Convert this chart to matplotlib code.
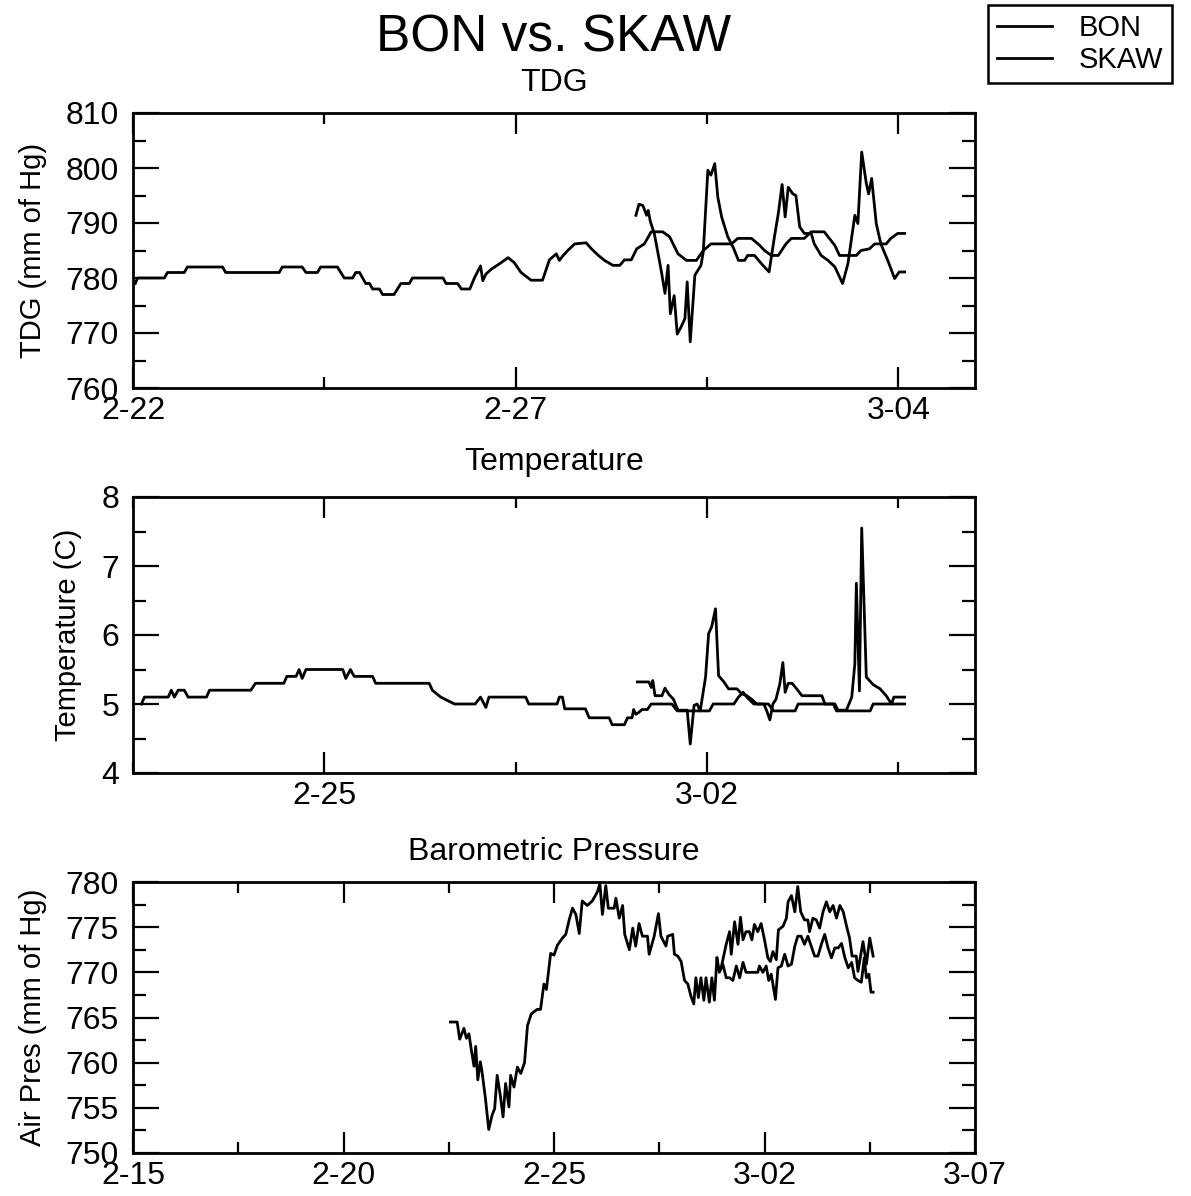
import matplotlib
matplotlib.use("Agg")
import matplotlib.pyplot as plt
from matplotlib.ticker import MultipleLocator

plt.rcParams["font.family"] = ["Liberation Sans", "DejaVu Sans"]

# all x values are days counted from 2-15 (2-22 = 7, 3-02 = 15)

# --- TDG ---
tdg_bon_day = [7.03, 7.06, 7.41, 7.45, 7.67, 7.71, 8.17, 8.21, 8.91, 8.95, 9.21, 9.26, 9.41, 9.45,
               9.67, 9.76, 9.87, 9.91, 9.96, 10.04, 10.09, 10.13, 10.22, 10.26, 10.41, 10.50, 10.61,
               10.65, 11.05, 11.09, 11.24, 11.29, 11.40, 11.46, 11.54, 11.57, 11.61, 11.68, 11.79,
               11.90, 11.98, 12.07, 12.20, 12.35, 12.44, 12.53, 12.57, 12.62, 12.68, 12.77, 12.92,
               12.99, 13.08, 13.16, 13.27, 13.36, 13.42, 13.51, 13.58, 13.68, 13.77, 13.92, 14.01,
               14.12, 14.23, 14.36, 14.45, 14.55, 14.82, 14.90, 15.08, 15.19, 15.25, 15.34, 15.43,
               15.53, 15.60, 15.77, 15.86, 16.03, 16.17, 16.23, 16.45, 16.51, 16.62, 16.69, 16.84,
               16.90, 16.99, 17.08]
tdg_bon = [779, 780, 780, 781, 781, 782, 782, 781, 781, 782, 782, 781, 781, 782, 782, 780, 780, 781,
           781, 779, 779, 778, 778, 777, 777, 779, 779, 780, 780, 779, 779, 778, 778, 780, 782.2,
           779.5, 780.7, 781.6, 782.6, 783.7, 782.8, 781, 779.6, 779.6, 783.3, 784.4, 783.2, 784.1,
           785, 786.2, 786.4, 785.3, 784.1, 783.2, 782.3, 782.3, 783.3, 783.3, 785.3, 786.2, 788.4,
           788.4, 787.5, 784.4, 783.2, 783.2, 785, 786.2, 786.2, 787.2, 787.2, 785.9, 785, 784.1,
           784.1, 786.2, 787.2, 787.2, 788.4, 788.4, 785.9, 784.1, 784.1, 785, 785.3, 786.2, 786.2,
           787.2, 788.1, 788.1]
tdg_skaw_day = [13.57, 13.61, 13.66, 13.71, 13.73, 13.76, 13.81, 13.86, 13.90, 13.95, 13.99, 14.02,
                14.07, 14.11, 14.16, 14.21, 14.24, 14.28, 14.34, 14.38, 14.42, 14.45, 14.51, 14.55,
                14.60, 14.64, 14.69, 14.77, 14.84, 14.91, 14.99, 15.03, 15.12, 15.21, 15.31, 15.38,
                15.43, 15.48, 15.52, 15.56, 15.62, 15.66, 15.71, 15.77, 15.86, 15.90, 15.99, 16.08,
                16.17, 16.27, 16.34, 16.43, 16.47, 16.52, 16.58, 16.61, 16.65, 16.71, 16.77, 16.86,
                16.95, 17.01, 17.08]
tdg_skaw = [791.4, 793.4, 793.2, 791.4, 792.3, 790.2, 788.1, 784.4, 781.4, 777.2, 782.3, 773.5, 776.8,
            769.8, 771.1, 772.6, 779.3, 768.4, 780.5, 781.4, 782.3, 784.7, 799.6, 798.7, 800.8,
            794.7, 791.1, 787.5, 785.6, 783.2, 783.2, 784.1, 784.1, 782.6, 781.1, 787.5, 791.7,
            797.0, 791.1, 796.5, 795.3, 795.0, 789.3, 788.1, 788.1, 786.2, 784.1, 783.2, 782.0,
            779.0, 782.6, 791.4, 789.9, 802.9, 797.2, 795.3, 798.1, 789.9, 786.2, 783.2, 779.9,
            781.1, 781.1]

# --- Temperature ---
temp_bon_day = [7.61, 7.65, 7.96, 8.00, 8.04, 8.09, 8.17, 8.22, 8.46, 8.50, 9.04, 9.10, 9.47, 9.51,
                9.63, 9.67, 9.71, 9.76, 10.24, 10.28, 10.34, 10.39, 10.63, 10.67, 11.37, 11.41,
                11.52, 11.70, 11.97, 12.04, 12.11, 12.15, 12.63, 12.67, 13.04, 13.07, 13.11, 13.14,
                13.41, 13.46, 13.72, 13.76, 13.92, 13.96, 14.02, 14.04, 14.07, 14.11, 14.15, 14.22,
                14.27, 14.54, 14.61, 15.03, 15.08, 15.35, 15.41, 15.47, 15.52, 15.61, 15.80, 15.87,
                16.15, 16.19, 16.65, 16.69, 17.13, 17.17, 17.58]
temp_bon = [5.0, 5.1, 5.1, 5.2, 5.1, 5.2, 5.2, 5.1, 5.1, 5.2, 5.2, 5.3, 5.3, 5.4, 5.4, 5.5, 5.37, 5.5,
            5.5, 5.37, 5.5, 5.4, 5.4, 5.3, 5.3, 5.2, 5.1, 5.0, 5.0, 5.1, 4.95, 5.1, 5.1, 5.0, 5.0,
            5.1, 5.1, 4.93, 4.93, 4.8, 4.8, 4.7, 4.7, 4.8, 4.8, 4.92, 4.85, 4.88, 4.92, 4.92, 5.0,
            5.0, 4.9, 4.9, 5.0, 5.0, 5.1, 5.17, 5.1, 5.0, 5.0, 4.9, 4.9, 5.0, 5.0, 4.9, 4.9, 5.0, 5.0]
temp_skaw_day = [14.09, 14.24, 14.27, 14.29, 14.32, 14.41, 14.45, 14.50, 14.56, 14.62, 14.74, 14.78,
                 14.83, 14.87, 14.91, 14.98, 15.02, 15.06, 15.11, 15.15, 15.22, 15.28, 15.39, 15.45,
                 15.52, 15.58, 15.65, 15.74, 15.78, 15.82, 15.86, 15.90, 15.95, 15.99, 16.02, 16.06,
                 16.11, 16.17, 16.24, 16.50, 16.54, 16.67, 16.71, 16.82, 16.89, 16.93, 16.95, 16.99,
                 17.02, 17.08, 17.17, 17.26, 17.34, 17.41, 17.44, 17.58]
temp_skaw = [5.32, 5.32, 5.24, 5.34, 5.12, 5.12, 5.23, 5.14, 5.07, 4.91, 4.91, 4.42, 4.98, 5.0, 4.9,
             5.39, 6.02, 6.12, 6.38, 5.41, 5.32, 5.22, 5.22, 5.15, 5.12, 5.07, 5.0, 5.0, 4.9, 4.77,
             5.0, 5.07, 5.29, 5.6, 5.17, 5.3, 5.3, 5.22, 5.12, 5.12, 5.0, 5.0, 4.91, 4.91, 5.1, 5.58,
             6.75, 5.19, 7.55, 5.39, 5.28, 5.22, 5.12, 5.0, 5.1, 5.1]

# --- Barometric pressure ---
pres_bon_day = [7.54, 7.70, 7.76, 7.86, 7.92, 7.98, 8.03, 8.10, 8.14, 8.19, 8.25, 8.29, 8.37, 8.45,
                8.53, 8.59, 8.65, 8.73, 8.79, 8.85, 8.93, 8.97, 9.05, 9.13, 9.21, 9.30, 9.37, 9.46,
                9.60, 9.68, 9.76, 9.82, 9.92, 10.00, 10.08, 10.20, 10.28, 10.36, 10.44, 10.52, 10.60,
                10.67, 10.79, 10.91, 11.03, 11.09, 11.15, 11.23, 11.29, 11.43, 11.47, 11.55, 11.63,
                11.68, 11.79, 11.87, 11.94, 12.02, 12.10, 12.22, 12.26, 12.38, 12.48, 12.54, 12.66,
                12.70, 12.82, 12.86, 12.94, 13.02, 13.10, 13.18, 13.25, 13.32, 13.37, 13.43, 13.49,
                13.56, 13.61, 13.69, 13.75, 13.81, 13.87, 13.93, 14.01, 14.09, 14.17, 14.25, 14.33,
                14.41, 14.49, 14.56, 14.72, 14.84, 14.88, 14.96, 15.04, 15.10, 15.16, 15.26, 15.32,
                15.40, 15.48, 15.56, 15.64, 15.72, 15.79, 15.87, 15.95, 16.03, 16.11, 16.19, 16.27,
                16.35, 16.43, 16.51, 16.59, 16.67, 16.75, 16.83, 16.91, 16.99, 17.07, 17.14, 17.22,
                17.30, 17.37, 17.42, 17.48, 17.53, 17.58]
pres_bon = [764.5, 764.5, 762.6, 763.8, 762.7, 763.2, 761.6, 759.6, 761.8, 758.1, 760.1, 759.0,
            756.1, 752.6, 754.2, 754.9, 758.6, 756.2, 754.0, 757.7, 755.1, 758.6, 757.3, 759.5,
            758.8, 760.0, 764.1, 765.4, 765.9, 765.9, 768.7, 768.1, 772.1, 771.9, 773.0, 773.8,
            774.2, 775.8, 777.1, 776.4, 774.3, 777.9, 777.4, 777.9, 778.9, 779.8, 776.4, 779.6,
            777.1, 777.1, 778.2, 776.0, 777.4, 774.2, 772.5, 774.9, 772.9, 775.4, 774.0, 774.0,
            772.0, 774.0, 776.5, 774.0, 772.9, 774.0, 774.2, 772.0, 771.8, 771.2, 769.1, 768.7,
            767.4, 766.5, 769.4, 767.2, 769.4, 766.9, 769.4, 766.7, 769.4, 766.9, 771.6, 770.0,
            770.9, 769.4, 769.4, 769.1, 770.7, 769.4, 771.1, 770.0, 770.0, 770.0, 770.7, 770.0,
            770.7, 769.1, 769.8, 767.0, 770.5, 770.7, 772.0, 770.7, 770.9, 772.9, 774.0, 774.0,
            773.1, 774.0, 772.9, 771.8, 771.8, 773.1, 774.2, 772.7, 771.6, 772.7, 772.7, 773.2,
            771.6, 770.5, 771.1, 769.4, 769.1, 768.9, 771.6, 769.4, 769.8, 767.8, 767.8]
pres_skaw_day = [13.87, 13.89, 13.97, 14.09, 14.17, 14.21, 14.29, 14.37, 14.43, 14.49, 14.56, 14.64,
                 14.70, 14.76, 14.84, 14.92, 15.00, 15.08, 15.14, 15.20, 15.28, 15.33, 15.44, 15.52,
                 15.56, 15.64, 15.72, 15.79, 15.86, 15.95, 16.03, 16.07, 16.15, 16.23, 16.31, 16.39,
                 16.47, 16.55, 16.63, 16.71, 16.79, 16.87, 16.95, 17.02, 17.08, 17.18, 17.22, 17.34,
                 17.42, 17.50, 17.58]
pres_skaw = [771.6, 770.5, 770.5, 773.1, 774.5, 772.0, 775.6, 773.1, 776.1, 773.6, 774.5, 774.5,
             773.6, 775.3, 774.5, 775.4, 773.6, 771.6, 771.2, 772.3, 771.4, 774.7, 775.1, 776.0,
             777.8, 778.5, 776.7, 779.5, 776.7, 775.8, 775.8, 774.5, 776.0, 775.8, 774.9, 776.7,
             777.8, 776.7, 777.4, 776.0, 777.4, 776.7, 775.1, 773.8, 771.8, 771.8, 770.1, 773.4,
             770.9, 773.8, 771.8]

# tick positions (days from 2-15) and labels
tdg_ticks = [7, 12, 17]
tdg_minor = [9.5, 14.5]
tdg_labels = ["2-22", "2-27", "3-04"]
temp_ticks = [10, 15]
temp_minor = [7.5, 12.5, 17.5]
temp_labels = ["2-25", "3-02"]
pres_ticks = [0, 5, 10, 15, 20]
pres_minor = [2.5, 7.5, 12.5, 17.5]
pres_labels = ["2-15", "2-20", "2-25", "3-02", "3-07"]

W, H = 1191, 1196


def make_axes(fig, top, bottom):
    return fig.add_axes([133 / W, 1 - bottom / H, 842 / W, (bottom - top) / H])


def style(ax, xlim, ylim, ticks, minor, labels, ymaj, ymin, ylabel, title, title_gap, label_x):
    ax.set_xlim(*xlim)
    ax.set_ylim(*ylim)
    ax.set_xticks(ticks, labels)
    ax.set_xticks(minor, minor=True)
    ax.yaxis.set_major_locator(MultipleLocator(ymaj))
    ax.yaxis.set_minor_locator(MultipleLocator(ymin))
    ax.tick_params(which="both", direction="in", top=True, right=True, width=1.6,
                   labelsize=23, colors="black")
    ax.tick_params(axis="x", which="major", length=15, pad=6)
    ax.tick_params(axis="x", which="minor", length=8)
    ax.tick_params(axis="y", which="major", length=19, pad=10)
    ax.tick_params(axis="y", which="minor", length=9.5)
    for sp in ax.spines.values():
        sp.set_linewidth(2)
    ax.set_ylabel(ylabel, fontsize=21)
    ax.yaxis.set_label_coords(label_x, 0.5)
    bbox_h = ax.get_position().height * H
    ax.text(0.5, 1 + title_gap / bbox_h, title, transform=ax.transAxes,
            ha="center", va="center", fontsize=23)


fig = plt.figure(figsize=(W / 100, H / 100), dpi=100)
fig.patch.set_facecolor("white")

ax1 = make_axes(fig, 113, 388)
l_bon, = ax1.plot(tdg_bon_day, tdg_bon, color="black", lw=2.0)
l_skaw, = ax1.plot(tdg_skaw_day, tdg_skaw, color="black", lw=2.0)
style(ax1, (7, 18), (760, 810), tdg_ticks, tdg_minor, tdg_labels, 10, 5,
      "TDG (mm of Hg)", "TDG", 30, -0.102)

ax2 = make_axes(fig, 497, 773)
ax2.plot(temp_bon_day, temp_bon, color="black", lw=2.0)
ax2.plot(temp_skaw_day, temp_skaw, color="black", lw=2.0)
style(ax2, (7.5, 18.5), (4, 8), temp_ticks, temp_minor, temp_labels, 1, 0.5,
      "Temperature (C)", "Temperature", 35, -0.061)

ax3 = make_axes(fig, 882, 1153)
ax3.plot(pres_bon_day, pres_bon, color="black", lw=2.0)
ax3.plot(pres_skaw_day, pres_skaw, color="black", lw=2.0)
style(ax3, (0, 20), (750, 780), pres_ticks, pres_minor, pres_labels, 5, 2.5,
      "Air Pres (mm of Hg)", "Barometric Pressure", 30, -0.102)

fig.text(554 / W, 1 - 38 / H, "BON vs. SKAW", ha="center", va="center", fontsize=37)

leg = fig.legend([l_bon, l_skaw], ["BON", "SKAW"], loc="upper left",
                 bbox_to_anchor=(988 / W, 1 - 5 / H), fontsize=21, frameon=True,
                 fancybox=False, framealpha=1, edgecolor="black", borderaxespad=0,
                 borderpad=0.3, handlelength=1.9, handletextpad=0.9, labelspacing=0.15)
leg.get_frame().set_linewidth(1.8)

fig.savefig("out.png", dpi=100, facecolor="white")
